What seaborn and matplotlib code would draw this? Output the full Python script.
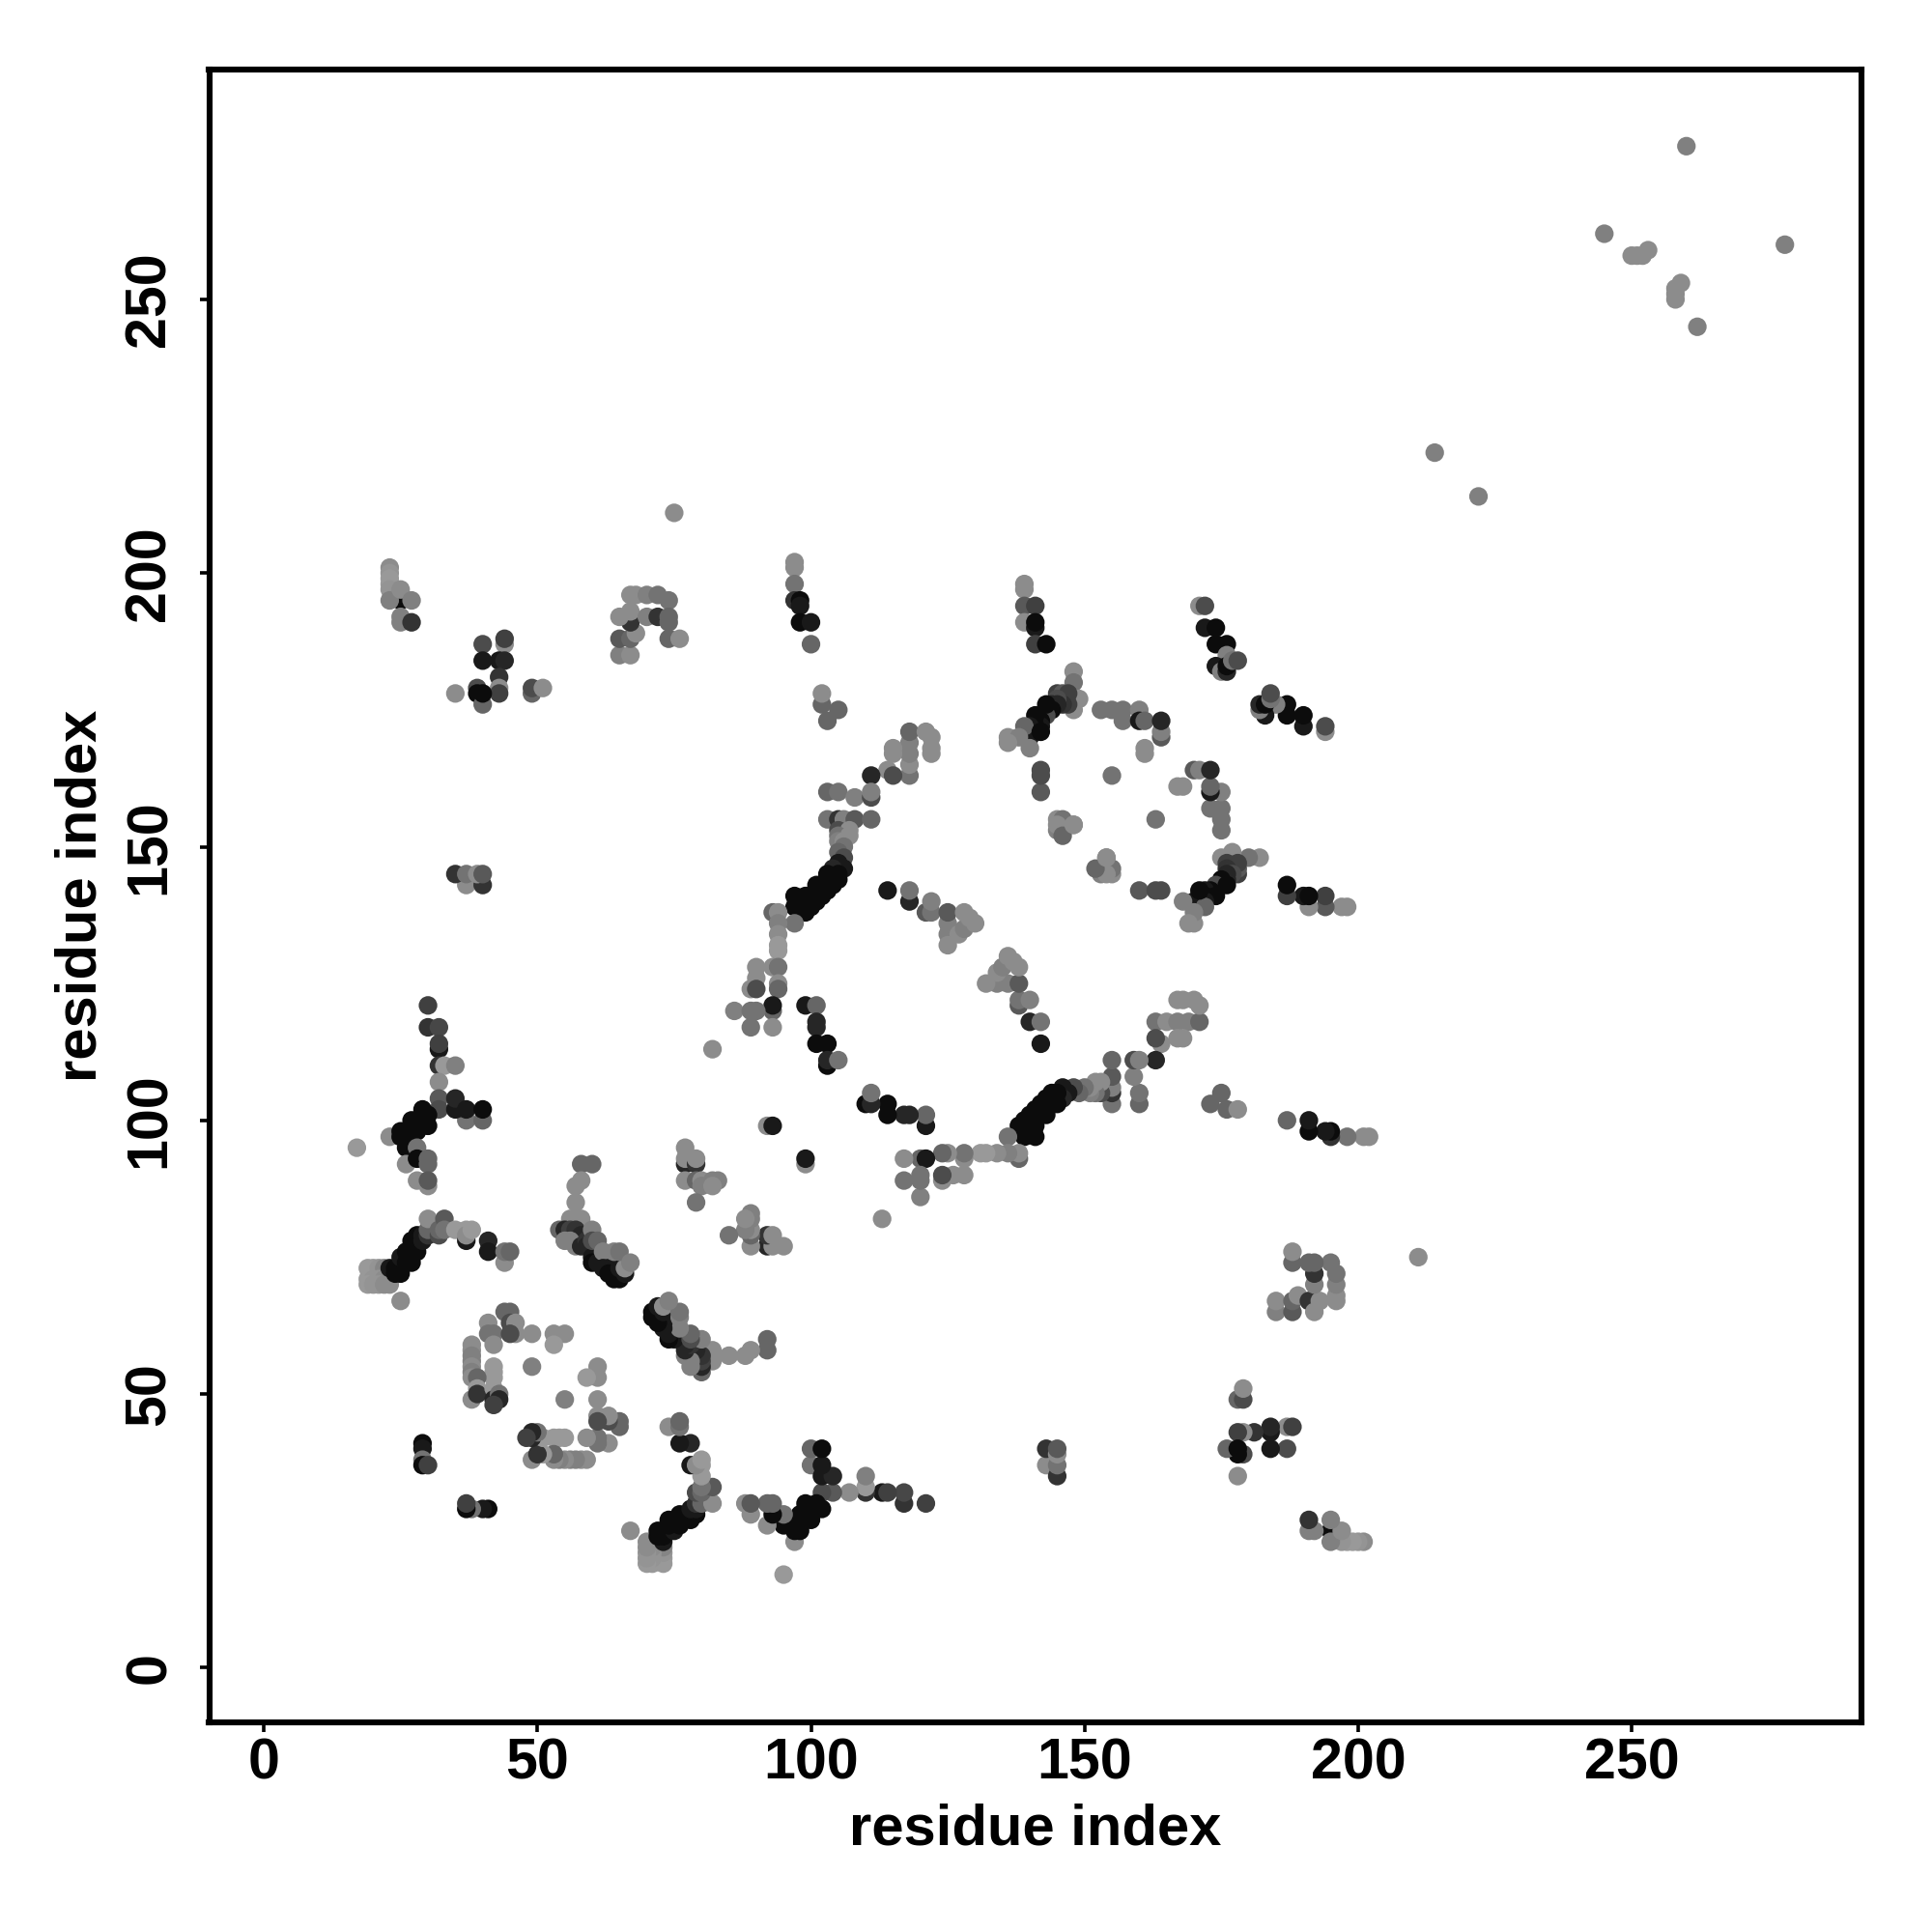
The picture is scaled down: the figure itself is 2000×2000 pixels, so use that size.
import pandas as pd
import seaborn as sns
import matplotlib.pyplot as plt

# contacts: (residue i, residue j, percent grey)
strand_a = [(17,95,60),(23,97,55),(30,121,25),(30,117,20),(32,117,28),(32,113,10),(32,114,25),(32,110,20),
            (33,110,60),(35,110,50),(32,107,55),(37,100,45),(40,100,40),(32,104,35),(32,102,30),(35,102,10),
            (35,104,15),(37,102,10),(40,102,5),(25,98,5),(25,97,5),(26,95,5),(26,97,5),(27,100,5),(27,99,5),(27,98,5),
            (28,100,5),(28,99,5),(28,98,5),(29,102,5),(29,101,5),(29,100,5),(29,99,5),(30,99,5),(30,101,5),(28,95,45),
            (26,92,55),(28,93,5),(30,92,40),(30,93,40),(28,89,55),(30,88,55),(30,89,35)]
strand_b = [(19,73,60),(20,73,60),(21,73,58),(22,73,52),(19,71,60),(20,71,58),(21,71,58),(22,71,55),(23,71,55),
            (19,70,60),(20,70,58),(21,70,58),(22,70,55),(23,70,55),(25,67,55),(23,73,10),(24,72,5),(24,73,5),(25,72,5),
            (25,74,5),(25,75,10),(26,74,5),(26,76,5),(27,74,5),(27,76,5),(27,78,5),(28,76,5),(28,78,5),(28,79,5),
            (29,78,10),(29,79,10),(30,79,20),(30,80,40),(30,82,55),
            (32,79,30),(32,80,40),(33,82,35),(33,80,45),(35,80,60),(37,78,10),(37,80,60),(37,79,55),(38,80,60),
            (41,78,15),(41,76,10),(44,74,55),(44,76,45),(45,76,40)]
strand_c = [(58,92,40),(60,92,40),(58,89,55),(57,88,55),(57,85,55),(56,82,55),(58,82,55),(54,80,40),(55,80,15),
            (56,80,25),(57,80,20),(58,79,15),(55,78,50),(56,78,50),(57,77,50),(58,77,15),(59,78,20),(60,80,50),(59,77,15),
            (60,75,10),(60,74,5),(61,74,10),(60,78,30),
            (61,78,40),(63,75,20),(62,76,50),(62,73,10),(63,73,10),(63,72,5),(64,72,5),(64,71,5),(65,71,5),(66,72,10),
            (65,73,10),(66,73,55),(64,76,50),(65,76,45),(67,74,50)]
ring_a = [(44,65,40),(45,65,40),(41,63,55),(45,63,30),(46,63,55),(46,61,55),(41,61,45),(42,61,45),(45,61,30),
          (49,61,55),(53,61,55),(55,61,55),(42,59,55),(53,59,60),(38,59,55),(38,58,55),(38,57,50),(38,56,50),
          (38,55,55),(38,54,50),(38,53,55),(49,55,50),(42,55,60),(42,54,60),(42,53,60),(39,53,40),(38,49,55),
          (39,51,60),(39,50,20),(42,51,60),(42,49,15),(43,50,45),(43,49,15),(42,48,25),
          (29,41,5),(29,40,10),(29,38,45),(29,37,5),(30,37,25)]
block_a = [(23,201,55),(23,200,58),(23,199,60),(23,198,60),(23,197,58),(25,195,5),(23,195,50),(25,197,55),
           (27,195,50),(25,192,50),(25,191,50),(27,191,20),(40,187,30),(44,187,55),(44,188,25),(40,184,10),
           (43,184,10),(44,184,15),(43,181,20),(43,179,55),(43,178,25),(39,179,30),(39,178,5),(40,176,40),
           (40,178,5),(35,178,55),(49,178,40),(49,179,30),(51,179,55),(37,143,55),(40,143,20),(35,145,20),
           (37,145,45),(39,145,55),(40,145,35)]
block_b = [(65,185,50),(67,185,55),(65,188,35),(67,188,40),(68,189,55),(67,191,20),(65,192,55),(67,193,55),
           (67,196,55),(68,196,55),(70,196,50),(72,196,45),(74,195,45),(70,192,50),(72,192,20),(74,192,40),
           (74,191,40),(74,188,40),(76,188,55),(75,211,55),(97,202,55),(97,201,55),(97,198,45),(97,195,20),
           (98,195,5),(98,194,10),(98,191,5),(100,191,10),(100,187,40),(102,176,40),(102,178,55),(105,175,40),
           (103,173,40)]
block_c = [(77,92,15),(77,95,55),(77,93,55),(79,92,20),(79,93,55),(77,89,55),(79,89,40),(80,89,55),(82,89,50),
           (83,89,50),(80,88,50),(82,88,55),(79,85,45)]
arc_a = [(118,163,45),(118,165,55),(118,167,50),(118,169,50),(118,171,40),(121,171,55),(122,170,55),(122,168,55),
         (122,167,55),(115,168,55),(115,167,55),(114,164,55),(115,163,30),(111,163,15),(103,160,40),(105,160,45),
         (108,159,50),(111,159,30),(111,160,50),(103,155,45),(105,155,20),(106,155,50),(108,155,35),(111,155,40),
         (105,153,30),(107,153,55),(105,152,45),(107,152,55),(105,151,50),(106,151,55),(106,150,45),(105,149,40),
         (106,148,30),(105,147,10),(106,146,10),(104,146,15),(105,145,5),(105,144,5),(103,145,5),(104,144,5),
         (103,143,5),(104,143,5),(101,143,5),(102,143,5),(102,142,5),(103,142,5),(101,141,5),(102,141,5),(99,141,5),
         (100,141,5),(101,140,5),(100,140,5),(100,139,5),(97,141,5),(97,139,5),(99,139,5),(98,140,5),(98,138,5),
         (99,138,5),(97,136,45),(93,138,40),(94,138,55),(94,136,50),(94,134,55),(94,132,60),(94,131,60)]
arc_b = [(90,128,55),(93,128,55),(94,128,45),(90,126,55),(94,125,55),(89,124,55),(90,124,30),(94,124,40),
         (93,120,40),(93,121,10),(86,120,50),(89,120,45),(90,120,45),(89,117,45),(93,117,55),(82,113,55),
         (99,121,10),(101,121,40),(101,118,15),(101,117,15),(101,114,5),(103,114,5),(103,110,5),(103,111,15),
         (105,111,45),(92,99,55),(93,99,10)]
ring_b = [(114,142,10),(118,140,15),(118,142,45),(121,138,35),(122,138,45),(122,140,50),(125,136,50),(125,134,50),
          (125,132,55),(125,138,35),(127,134,55),(128,135,50),(128,138,55),(129,137,55),(130,136,55)]
block_d = [(139,198,55),(139,197,55),(139,194,35),(141,194,25),(139,191,55),(141,190,10),(141,191,5),(141,187,25),
           (143,187,5),(148,182,55),(148,180,45),(148,175,55),(145,178,25),(146,178,35),(149,177,55),(147,178,25),
           (147,176,25),(146,176,20),(145,177,30),(145,176,15),(144,176,15),(144,175,5),(143,175,5),(143,174,30),
           (143,176,5),(142,173,5),(142,172,10),(141,172,5),(141,171,5),(141,174,5),(140,172,10),(140,170,10),(139,172,40),
           (142,171,5),(136,170,55),(138,170,50),(140,168,50),(136,169,55)]
ring_c = [(153,175,45),(155,175,45),(157,175,45),(160,175,50),(157,173,45),(160,173,10),(161,173,40),(164,170,35),
          (164,171,50),(164,173,15),(161,168,55),(161,167,55),(142,160,35),(142,163,30),(142,164,30),(155,163,45),
          (145,155,55),(146,155,45),(148,154,50),(145,153,50),(145,154,55),(146,152,40),(148,154,55)]
block_e = [(171,194,55),(172,194,30),(172,190,10),(174,190,5),(174,187,5),(176,187,5),(176,185,50),(174,183,10),
           (175,182,50),(176,182,15),(176,183,5),(177,184,45),(178,184,30)]
block_f = [(245,262,50),(250,258,55),(251,258,55),(253,259,55),(252,258,55),(260,278,50),(214,222,50)]

contacts = strand_a + strand_b + strand_c + ring_a + block_a + block_b + block_c + arc_a + arc_b + ring_b + block_d + ring_c + block_e + block_f
upper = pd.DataFrame(contacts, columns=["i", "j", "grey"])
# the map is symmetric, every contact shows on both sides of the diagonal
lower = upper.rename(columns={"i": "j", "j": "i"})
df = pd.concat([upper, lower], ignore_index=True)

xticks = [0, 50, 100, 150, 200, 250]
axis_label = "residue index"

sns.set_style("white")
plt.rcParams["font.family"] = ["Liberation Sans", "DejaVu Sans"]
plt.rcParams["font.weight"] = "bold"

fig = plt.figure(figsize=(10, 10), dpi=200)
ax = fig.add_axes([216.5 / 2000, 1 - 1783 / 2000, (1927 - 216.5) / 2000, (1783 - 72) / 2000])
sns.scatterplot(data=df, x="i", y="j", hue="grey", palette="gray", hue_norm=(0, 100),
                s=48, linewidth=0, legend=False, ax=ax)
ax.set_xlim(-10, 292)
ax.set_ylim(-10, 292)
ax.set_xticks(xticks)
ax.set_yticks(xticks)
ax.tick_params(length=3.6, width=1.3, color="black", labelcolor="black", labelsize=21.3, bottom=True, left=True, pad=2)
ax.tick_params(axis="y", pad=8.5)
plt.setp(ax.get_yticklabels(), rotation=90, va="center")
ax.set_xlabel(axis_label, fontsize=21.5, fontweight="bold", labelpad=4.5, color="black")
ax.set_ylabel(axis_label, fontsize=21.5, fontweight="bold", labelpad=6, color="black")
for spine in ax.spines.values():
    spine.set_linewidth(2.2)
    spine.set_color("black")

fig.savefig("out.png", dpi=200)
